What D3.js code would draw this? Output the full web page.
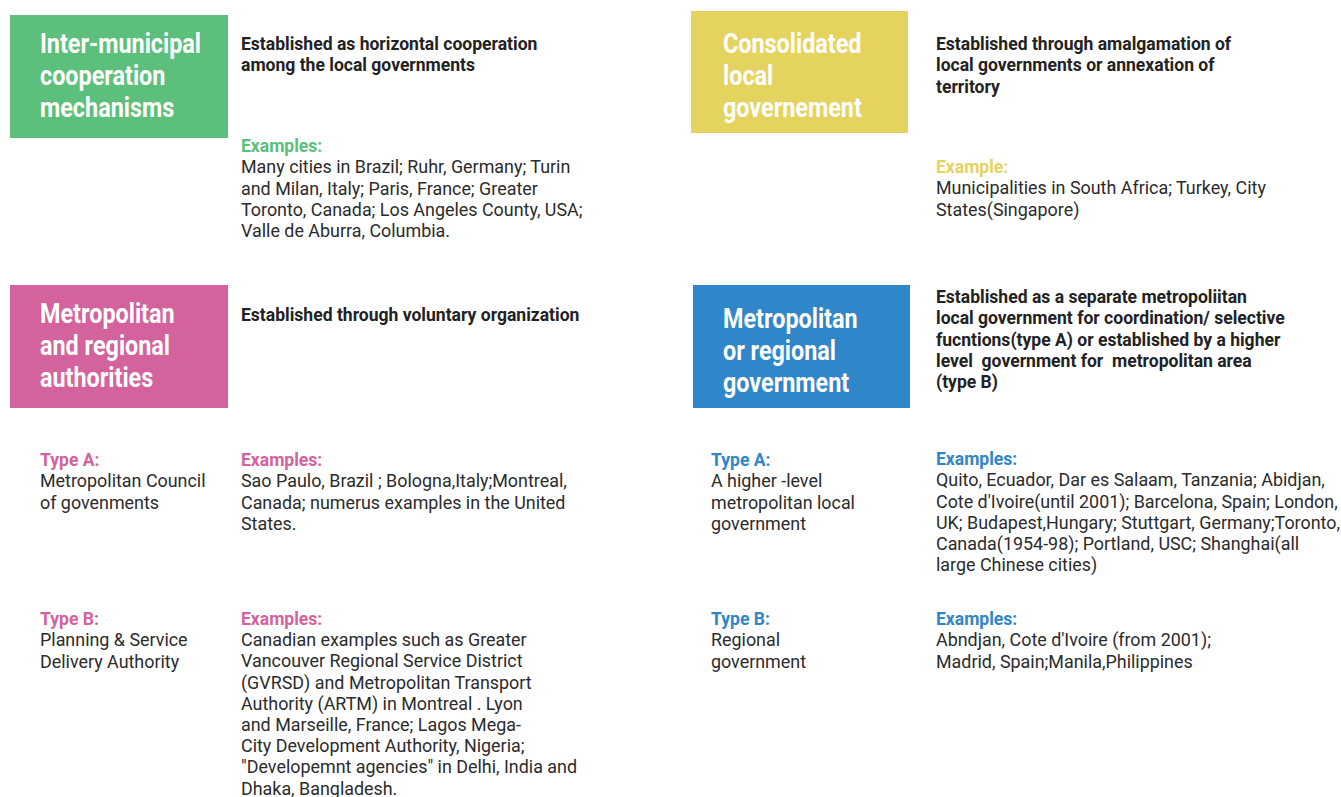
<!DOCTYPE html>
<html><head><meta charset="utf-8">
<script src="https://cdn.jsdelivr.net/npm/d3@7"></script>
<style>html,body{margin:0;padding:0;background:#fff;}svg{display:block;}</style>
</head><body>
<script>
// ---------- DATA ----------
const panelTitles = [
  ["Inter-municipal","cooperation","mechanisms"],
  ["Consolidated","local","governement"],
  ["Metropolitan","and regional","authorities"],
  ["Metropolitan","or regional","government"]
];
const panelDescriptions = [
  ["Established as horizontal cooperation","among the local governments"],
  ["Established through amalgamation of","local governments or annexation of","territory"],
  ["Established through voluntary organization"],
  ["Established as a separate metropoliitan","local government for coordination/ selective","fucntions(type A) or established by a higher","level  government for  metropolitan area","(type B)"]
];
const exampleLabels = ["Examples:","Example:"];
const exampleTexts = [
  ["Many cities in Brazil; Ruhr, Germany; Turin","and Milan, Italy; Paris, France; Greater","Toronto, Canada; Los Angeles County, USA;","Valle de Aburra, Columbia."],
  ["Municipalities in South Africa; Turkey, City","States(Singapore)"]
];
const typeLabels = ["Type A:","Type B:","Type A:","Type B:"];
const typeTexts = [
  ["Metropolitan Council","of govenments"],
  ["Planning & Service","Delivery Authority"],
  ["A higher -level","metropolitan local","government"],
  ["Regional","government"]
];
const typeExampleTexts = [
  ["Sao Paulo, Brazil ; Bologna,Italy;Montreal,","Canada; numerus examples in the United","States."],
  ["Canadian examples such as Greater","Vancouver Regional Service District","(GVRSD) and Metropolitan Transport","Authority (ARTM) in Montreal . Lyon","and Marseille, France; Lagos Mega-","City Development Authority, Nigeria;","\"Developemnt agencies\" in Delhi, India and","Dhaka, Bangladesh."],
  ["Quito, Ecuador, Dar es Salaam, Tanzania; Abidjan,","Cote d'Ivoire(until 2001); Barcelona, Spain; London,","UK; Budapest,Hungary; Stuttgart, Germany;Toronto,","Canada(1954-98); Portland, USC; Shanghai(all","large Chinese cities)"],
  ["Abndjan, Cote d'Ivoire (from 2001);","Madrid, Spain;Manila,Philippines"]
];

// ---------- STYLE / LAYOUT ----------
const palette = ["#5cbf7b","#e5d35f","#d4629d","#2f86c8"];
const W = 1341, H = 797;
const FONT = "Roboto, 'Noto Sans', sans-serif";
const SIZE = 18.5;
const SX_REG = 0.968;   // horizontal squeeze, regular text
const SX_BOLD = 0.949;  // horizontal squeeze, bold text
const LH = 21.3;        // body line height

const svg = d3.select("body").append("svg").attr("width",W).attr("height",H);

const colX = d3.scaleOrdinal().domain(["L0","L1","L2","R0","R1","R2"]).range([10,40,241,692,711,936]);

const boxes = [
  {x:colX("L0"), y:15,  w:218, h:123},
  {x:colX("R0")-1, y:11, w:217, h:122},
  {x:colX("L0"), y:285, w:218, h:123},
  {x:colX("R0")+1, y:285, w:217, h:123}
];
const titleX = [colX("L1"), 723, colX("L1"), 723];
const titleY = [53, 53, 323, 328];
const descX = [colX("L2"), colX("R2"), colX("L2"), colX("R2")];
const descY = [50, 50, 321, 303];

function block(x, y, lines, opts){
  const bold = (opts.weight||400) >= 700;
  const sx = opts.sx || (bold ? SX_BOLD : SX_REG);
  const g = svg.append("g").attr("transform",`translate(${x},${y}) scale(${sx},1)`);
  g.selectAll("text").data(lines).join("text")
    .attr("x",0).attr("y",(d,i)=>i*(opts.lh||LH))
    .attr("font-family",FONT)
    .attr("font-size",opts.size||SIZE)
    .attr("font-weight",opts.weight||400)
    .attr("fill",opts.fill||"#2b2b2b")
    .style("white-space","pre")
    .text(d=>d);
  return g;
}

svg.selectAll("rect.box").data(boxes).join("rect").attr("class","box")
  .attr("x",d=>d.x).attr("y",d=>d.y).attr("width",d=>d.w).attr("height",d=>d.h)
  .attr("fill",(d,i)=>palette[i]);

panelTitles.forEach((t,i)=>block(titleX[i], titleY[i], t, {size:28, weight:700, fill:"#fff", lh:32, sx:0.835}));
panelDescriptions.forEach((t,i)=>block(descX[i], descY[i], t, {weight:700, fill:"#222"}));

const exY = [152, 173];
exampleLabels.forEach((lab,i)=>{
  block(descX[i], exY[i], [lab], {weight:700, fill:palette[i]});
  block(descX[i], exY[i]+LH, exampleTexts[i], {});
});

const typeX = [colX("L1"), colX("L1"), colX("R1"), colX("R1")];
const typeExX = [colX("L2"), colX("L2"), colX("R2"), colX("R2")];
const typeY = [466, 625, 466, 625];
const typeExLabY = [466, 625, 465, 625];
const typeColor = [palette[2], palette[2], palette[3], palette[3]];
typeLabels.forEach((lab,i)=>{
  block(typeX[i], typeY[i], [lab], {weight:700, fill:typeColor[i]});
  block(typeX[i], typeY[i]+LH, typeTexts[i], {});
  block(typeExX[i], typeExLabY[i], ["Examples:"], {weight:700, fill:typeColor[i]});
  block(typeExX[i], typeExLabY[i]+LH, typeExampleTexts[i], {lh: i===1 ? 21.2 : LH});
});
</script>
</body></html>
